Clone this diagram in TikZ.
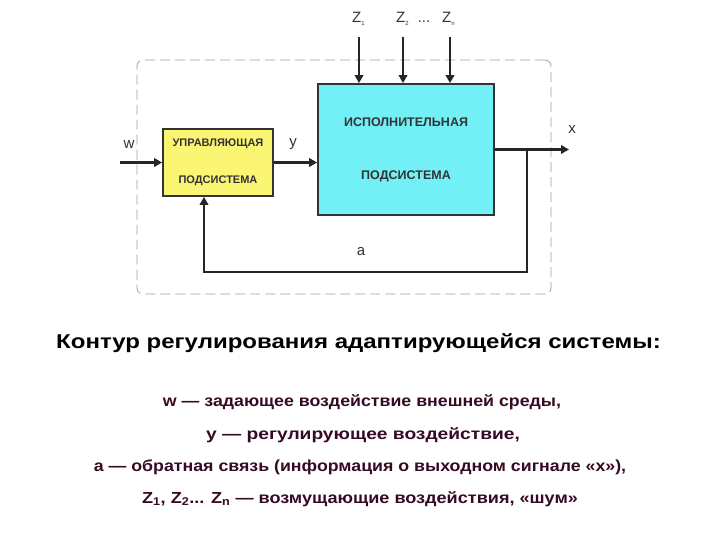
\documentclass[tikz,border=0pt]{standalone}
\usepackage{fontspec}
\setmainfont{Liberation Sans}
\usetikzlibrary{arrows.meta}
\definecolor{yelbox}{RGB}{250,245,115}
\definecolor{cyanbox}{RGB}{115,240,245}
\definecolor{txtdark}{RGB}{55,10,35}
\definecolor{framegray}{RGB}{160,160,160}
\tikzset{
  blockbox/.style={draw=black!80, line width=1.8pt, inner sep=0pt, align=center,
    font=\fontsize{11}{13}\selectfont\bfseries, text=black!80},
  sig/.style={line width=3.3pt, draw=black!85, -{Triangle[length=8pt,width=8.5pt]}},
  thinsig/.style={line width=2.8pt, draw=black!85, -{Triangle[length=8pt,width=8.5pt]}},
  lbl/.style={font=\fontsize{15}{17}\selectfont, text=black!80, inner sep=0pt},
  caption/.style={font=\fontsize{16}{18}\selectfont\bfseries, text=txtdark, inner sep=0pt}
}
\begin{document}
\begin{tikzpicture}[x=1pt,y=-1pt]
\useasboundingbox[fill=white] (0,0) rectangle (720,540);
% frame
\node[draw=framegray, line width=0.8pt, dash pattern=on 10pt off 5pt, rounded corners=6pt,
  minimum width=414pt, minimum height=234pt, inner sep=0pt] (frame) at (344,177) {};
% blocks
\node[blockbox, fill=yelbox, minimum width=110pt, minimum height=67pt] (ctrl) at (218,162.5)
  {УПРАВЛЯЮЩАЯ\\[24pt]ПОДСИСТЕМА};
\node[blockbox, fill=cyanbox, minimum width=176pt, minimum height=131pt,
  font=\fontsize{12.5}{14}\selectfont\bfseries] (exec) at (406,149.5)
  {ИСПОЛНИТЕЛЬНАЯ\\[39pt]ПОДСИСТЕМА};
% input w
\coordinate (win) at (120,162.5);
\draw[sig] (win) -- (ctrl.west);
\node[lbl] (wl) at (129,145) {w};
% y
\draw[sig] (ctrl.east) -- (exec.west |- ctrl.east);
\node[lbl] (yl) at (293,144) {y};
% output x
\coordinate (xout) at (569,149.5);
\draw[sig] (exec.east) -- (xout);
\node[lbl] (xl) at (572,130) {x};
% feedback
\coordinate (fb) at (527,149.5);
\coordinate (fbl) at (204,272);
\draw[thinsig] (fb) |- (fbl) -- (ctrl.south -| fbl);
\node[lbl] (al) at (361,252) {a};
% disturbances
\coordinate (z1s) at (359,37);
\coordinate (z2s) at (403,37);
\coordinate (zns) at (450,37);
\draw[thinsig] (z1s) -- (exec.north -| z1s);
\draw[thinsig] (z2s) -- (exec.north -| z2s);
\draw[thinsig] (zns) -- (exec.north -| zns);
\node[lbl, anchor=base west] (z1l) at (352,23) {Z\raisebox{-3pt}{\fontsize{6}{7}\selectfont 1}};
\node[lbl, anchor=base west] (z2l) at (396,23) {Z\raisebox{-3pt}{\fontsize{6}{7}\selectfont 2}};
\node[lbl, anchor=base] (dots) at (424,23) {...};
\node[lbl, anchor=base west] (znl) at (442,23) {Z\raisebox{-3pt}{\fontsize{6}{7}\selectfont n}};
% captions
\node[font=\fontsize{20}{23}\selectfont\bfseries, text=black, inner sep=0pt] (title) at (358.5,343)
  {\scalebox{1.2}[1]{Контур регулирования адаптирующейся системы:}};
\node[caption] (c1) at (362,402) {\scalebox{1.11}[1]{w — задающее воздействие внешней среды,}};
\node[caption] (c2) at (363,435) {\scalebox{1.2}[1]{у — регулирующее воздействие,}};
\node[caption] (c3) at (360,467) {\scalebox{1.11}[1]{а — обратная связь (информация о выходном сигнале «х»),}};
\node[caption] (c4) at (360,499) {\scalebox{1.13}[1]{Z\textsubscript{1}, Z\textsubscript{2}... Z\textsubscript{n} — возмущающие воздействия, «шум»}};
\end{tikzpicture}
\end{document}
